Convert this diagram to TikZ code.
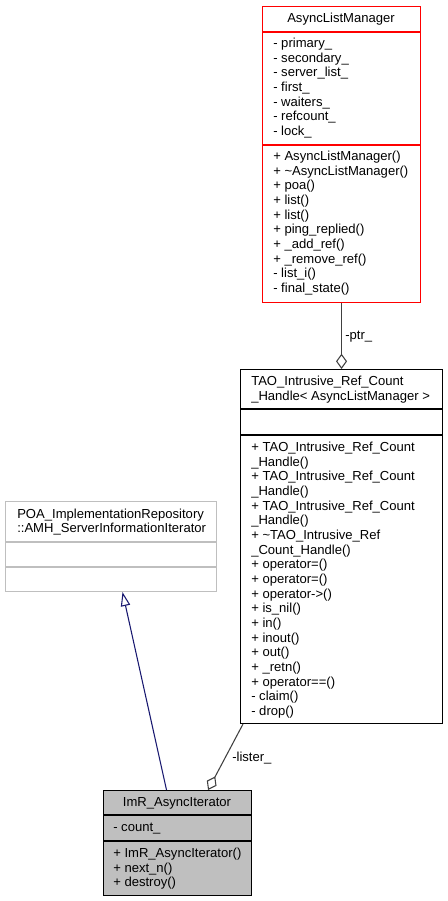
\documentclass[tikz,border=0pt]{standalone}
\usepackage{fontspec}
\setmainfont{Liberation Sans}
\usetikzlibrary{arrows.meta}

\definecolor{edgegray}{HTML}{404040}
\definecolor{inhblue}{HTML}{191970}
\definecolor{boxgray}{HTML}{BFBFBF}

\tikzset{
  classbox/.style={draw, line width=0.8pt, inner sep=0pt, anchor=north west},
  member/.style={anchor=base west, inner sep=0pt, font=\fontsize{9.8}{11}\selectfont},
  classname/.style={anchor=base, inner sep=0pt, font=\fontsize{9.8}{11}\selectfont},
  usage/.style={draw=edgegray, line width=0.8pt, -{Diamond[open, length=11.5pt, width=8.25pt]}},
}

\begin{document}
\begin{tikzpicture}[x=0.75pt, y=-0.75pt]

    % Fix the page to the size of the reference (pixel units, y down)
    \useasboundingbox (0,0) rectangle (448,901);

    % Line pitch of the member lists
    \def\dy{14.67}

    % 1. AsyncListManager
    \node[classbox, draw=red, minimum width={158*0.75pt}, minimum height={296*0.75pt}] (alm) at (262,6) {};
    \draw[red, line width=0.8pt] (alm.west |- 0,32) -- (alm.east |- 0,32);
    \draw[red, line width=0.8pt] (alm.west |- 0,145) -- (alm.east |- 0,145);
    \node[classname] (alm-name) at (341,22.5) {AsyncListManager};
    \foreach \t [count=\i from 0] in {primary\_, secondary\_, server\_list\_, first\_, waiters\_, refcount\_, lock\_}
        \node[member] (alm-a\i) at (273,{47.5+\dy*\i}) {- \t};
    \foreach \t [count=\i from 0] in {+ AsyncListManager(), + \textasciitilde AsyncListManager(), + poa(), + list(), + list(),
        + ping\_replied(), + \_add\_ref(), + \_remove\_ref(), - list\_i(), - final\_state()}
        \node[member] (alm-m\i) at (273,{160.5+\dy*\i}) {\t};

    % 2. TAO_Intrusive_Ref_Count_Handle
    \node[classbox, minimum width={202*0.75pt}, minimum height={354*0.75pt}] (handle) at (240,369) {};
    \draw[line width=0.8pt] (handle.west |- 0,409) -- (handle.east |- 0,409);
    \draw[line width=0.8pt] (handle.west |- 0,435) -- (handle.east |- 0,435);
    \node[member] (handle-name1) at (251,385.5) {TAO\_Intrusive\_Ref\_Count};
    \node[member] (handle-name2) at (251,{385.5+\dy}) {\_Handle< AsyncListManager >};
    \foreach \t [count=\i from 0] in {+ TAO\_Intrusive\_Ref\_Count, \_Handle(), + TAO\_Intrusive\_Ref\_Count, \_Handle(),
        + TAO\_Intrusive\_Ref\_Count, \_Handle(), + \textasciitilde TAO\_Intrusive\_Ref, \_Count\_Handle(),
        + operator=(), + operator=(), + operator->(), + is\_nil(), + in(), + inout(), + out(), + \_retn(),
        + operator==(), - claim(), - drop()}
        \node[member] (handle-m\i) at (251,{451.5+\dy*\i}) {\t};

    % 3. POA_ImplementationRepository::AMH_ServerInformationIterator
    \node[classbox, draw=boxgray, minimum width={211*0.75pt}, minimum height={90*0.75pt}] (base) at (5,501) {};
    \draw[boxgray, line width=0.8pt] (base.west |- 0,542) -- (base.east |- 0,542);
    \draw[boxgray, line width=0.8pt] (base.west |- 0,567) -- (base.east |- 0,567);
    \node[member] (base-name1) at (17,518) {POA\_ImplementationRepository};
    \node[member] (base-name2) at (17,{518+\dy}) {::AMH\_ServerInformationIterator};

    % 4. ImR_AsyncIterator
    \node[classbox, fill=boxgray, minimum width={148*0.75pt}, minimum height={105*0.75pt}] (iter) at (103,790) {};
    \draw[line width=0.8pt] (iter.west |- 0,815) -- (iter.east |- 0,815);
    \draw[line width=0.8pt] (iter.west |- 0,841) -- (iter.east |- 0,841);
    \node[classname] (iter-name) at (177,806.5) {ImR\_AsyncIterator};
    \node[member] (iter-a0) at (113,831.5) {- count\_};
    \foreach \t [count=\i from 0] in {+ ImR\_AsyncIterator(), + next\_n(), + destroy()}
        \node[member] (iter-m\i) at (113,{857.5+\dy*\i}) {\t};

    % 5. Connectors
    \draw[usage] (alm.south) -- (handle.north);
    \node[member] (ptr-label) at (345,339.5) {-ptr\_};

    \draw[usage] ([xshift=2.25pt]handle.south west) -- ([xshift=-33pt]iter.north east);
    \node[member] (lister-label) at (232,761.5) {-lister\_};

    \draw[inhblue, line width=0.8pt, -{Triangle[open, length=10.5pt, width=7pt]}]
        ([xshift=-8.25pt]iter.north) -- ([xshift=8.6pt]base.south);

\end{tikzpicture}
\end{document}
